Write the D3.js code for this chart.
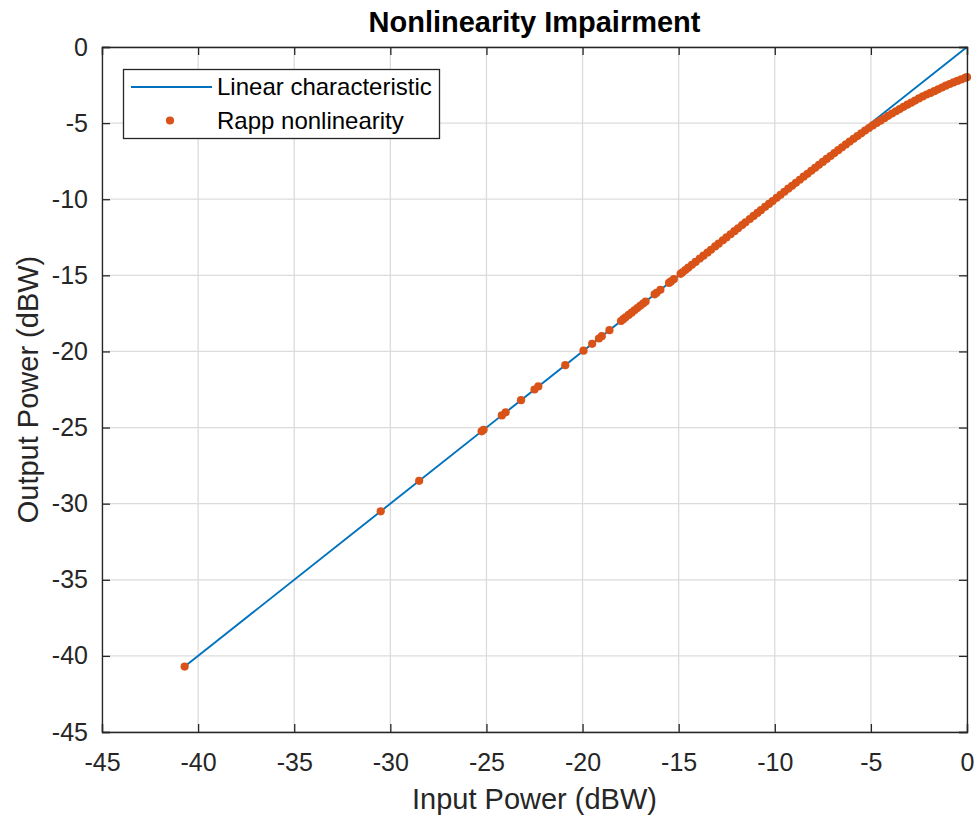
<!DOCTYPE html>
<html>
<head>
<meta charset="utf-8">
<script src="https://cdn.jsdelivr.net/npm/d3@7"></script>
<style>
  html, body { margin: 0; padding: 0; background: #fff; }
  svg { display: block; font-family: "Liberation Sans", Arial, Helvetica, sans-serif; }
</style>
</head>
<body>
<svg id="chart" width="980" height="818"></svg>
<script>
// ---------- data ----------
const chartTitle = "Nonlinearity Impairment";
const xLabel = "Input Power (dBW)";
const yLabel = "Output Power (dBW)";
const xTicks = [-45, -40, -35, -30, -25, -20, -15, -10, -5, 0];
const yTicks = [-45, -40, -35, -30, -25, -20, -15, -10, -5, 0];
const seriesNames = ["Linear characteristic", "Rapp nonlinearity"];

// Linear characteristic (input dBW -> output dBW)
const linearIn  = [-40.7, 0];
const linearOut = [-40.7, 0];

// Rapp nonlinearity samples (input dBW, output dBW)
const rappIn = [
  -40.7, -30.5, -28.5, -25.25, -25.15, -24.2, -24.0, -23.2, -22.5, -22.3,
  -20.9, -19.95, -19.5, -19.15, -19.0, -18.6, -18.0, -17.88, -17.76, -17.6,
  -17.45, -17.3, -17.15, -17.0, -16.85, -16.72, -16.25, -16.15, -15.95, -15.5,
  -15.4, -15.25, -14.9, -14.8, -14.65, -14.5, -14.31, -14.12, -13.9, -13.71,
  -13.5, -13.32, -13.1, -12.92, -12.7, -12.51, -12.3, -12.1, -11.91, -11.7,
  -11.52, -11.3, -11.1, -10.9, -10.72, -10.5, -10.3, -10.11, -9.9, -9.7,
  -9.5, -9.3, -9.1, -8.9, -8.7, -8.5, -8.3, -8.1, -7.9, -7.7,
  -7.5, -7.3, -7.1, -6.9, -6.7, -6.5, -6.3, -6.1, -5.9, -5.7,
  -5.5, -5.3, -5.1, -4.9, -4.7, -4.5, -4.3, -4.1, -3.9, -3.7,
  -3.5, -3.3, -3.1, -2.9, -2.7, -2.5, -2.3, -2.1, -1.9, -1.7,
  -1.5, -1.3, -1.1, -0.9, -0.7, -0.5, -0.3, -0.1, 0.0
];
const rappOut = [
  -40.7, -30.5, -28.5, -25.25, -25.15, -24.2, -24.0, -23.2, -22.5, -22.3,
  -20.9, -19.95, -19.5, -19.15, -19.0, -18.6, -18.0, -17.88, -17.76, -17.6,
  -17.45, -17.3, -17.15, -17.0, -16.85, -16.72, -16.25, -16.15, -15.95, -15.5,
  -15.4, -15.25, -14.9, -14.8, -14.65, -14.5, -14.31, -14.12, -13.9, -13.71,
  -13.5, -13.32, -13.1, -12.92, -12.7, -12.51, -12.3, -12.1, -11.91, -11.7,
  -11.52, -11.3, -11.1, -10.9, -10.72, -10.5, -10.31, -10.12, -9.91, -9.71,
  -9.51, -9.31, -9.12, -8.92, -8.72, -8.52, -8.33, -8.13, -7.94, -7.74,
  -7.55, -7.35, -7.16, -6.97, -6.78, -6.59, -6.40, -6.21, -6.03, -5.85,
  -5.67, -5.49, -5.32, -5.15, -4.99, -4.84, -4.68, -4.52, -4.37, -4.22,
  -4.08, -3.93, -3.79, -3.66, -3.52, -3.38, -3.25, -3.12, -3.02, -2.90,
  -2.78, -2.66, -2.54, -2.43, -2.33, -2.23, -2.13, -2.03, -1.98
];

// ---------- layout ----------
const plot = { left: 102, right: 967, top: 47, bottom: 732 };
const colors = { axis: "#262626", grid: "#dcdcdc", lin: "#0072BD", rapp: "#D95319" };

const svg = d3.select("#chart");
const x = d3.scaleLinear().domain([-45, 0]).range([plot.left, plot.right]);
const y = d3.scaleLinear().domain([-45, 0]).range([plot.bottom, plot.top]);

// grid
const grid = svg.append("g");
grid.selectAll("line.gx").data(xTicks).join("line")
  .attr("x1", d => x(d)).attr("x2", d => x(d))
  .attr("y1", plot.top).attr("y2", plot.bottom)
  .attr("stroke", colors.grid).attr("stroke-width", 1.3);
grid.selectAll("line.gy").data(yTicks).join("line")
  .attr("y1", d => y(d)).attr("y2", d => y(d))
  .attr("x1", plot.left).attr("x2", plot.right)
  .attr("stroke", colors.grid).attr("stroke-width", 1.3);

// data
const linPts = linearIn.map((v, i) => [v, linearOut[i]]);
svg.append("path").datum(linPts)
  .attr("d", d3.line().x(d => x(d[0])).y(d => y(d[1])))
  .attr("fill", "none").attr("stroke", colors.lin).attr("stroke-width", 1.9);

const rappPts = rappIn.map((v, i) => [v, rappOut[i]]);
svg.append("g").selectAll("circle").data(rappPts).join("circle")
  .attr("cx", d => x(d[0])).attr("cy", d => y(d[1])).attr("r", 4.1)
  .attr("fill", colors.rapp);

// axes
const tickLen = 8;
const xAxisB = d3.axisBottom(x).tickValues(xTicks).tickSize(-tickLen).tickPadding(21).tickFormat(d3.format("d"));
const xAxisT = d3.axisTop(x).tickValues(xTicks).tickSize(-tickLen).tickFormat("");
const yAxisL = d3.axisLeft(y).tickValues(yTicks).tickSize(-tickLen).tickPadding(14).tickFormat(d3.format("d"));
const yAxisR = d3.axisRight(y).tickValues(yTicks).tickSize(-tickLen).tickFormat("");

function styleAxis(g) {
  g.selectAll(".domain").attr("stroke", colors.axis).attr("stroke-width", 1.3);
  g.selectAll(".tick line").attr("stroke", colors.axis).attr("stroke-width", 1.3);
  g.selectAll(".tick text").attr("fill", colors.axis).style("font-size", "25px")
    .style("font-family", "'Liberation Sans', Arial, sans-serif")
    .text(function() { return d3.select(this).text().replace("\u2212", "-"); });
}
svg.append("g").attr("transform", `translate(0,${plot.bottom})`).call(xAxisB).call(styleAxis);
svg.append("g").attr("transform", `translate(0,${plot.top})`).call(xAxisT).call(styleAxis);
svg.append("g").attr("transform", `translate(${plot.left},0)`).call(yAxisL).call(styleAxis);
svg.append("g").attr("transform", `translate(${plot.right},0)`).call(yAxisR).call(styleAxis);

// title & labels
svg.append("text").attr("x", (plot.left + plot.right) / 2).attr("y", 32)
  .attr("text-anchor", "middle").attr("fill", "#000")
  .style("font-size", "29px").style("font-weight", "bold").text(chartTitle);
svg.append("text").attr("x", (plot.left + plot.right) / 2).attr("y", 809)
  .attr("text-anchor", "middle").attr("fill", colors.axis)
  .style("font-size", "29px").text(xLabel);
svg.append("text").attr("transform", `translate(38,${(plot.top + plot.bottom) / 2}) rotate(-90)`)
  .attr("text-anchor", "middle").attr("fill", colors.axis)
  .style("font-size", "29px").text(yLabel);

// legend
const leg = svg.append("g");
leg.append("rect").attr("x", 123.5).attr("y", 69.5).attr("width", 316).attr("height", 69)
  .attr("fill", "#fff").attr("stroke", colors.axis).attr("stroke-width", 1.3);
leg.append("line").attr("x1", 131).attr("x2", 212).attr("y1", 87).attr("y2", 87)
  .attr("stroke", colors.lin).attr("stroke-width", 1.9);
leg.append("circle").attr("cx", 170).attr("cy", 120.5).attr("r", 4.1).attr("fill", colors.rapp);
leg.selectAll("text.lt").data(seriesNames).join("text")
  .attr("x", 217).attr("y", (d, i) => 87 + i * 33.5).attr("dy", "0.35em")
  .attr("fill", "#000").style("font-size", "24px").text(d => d);
</script>
</body>
</html>
